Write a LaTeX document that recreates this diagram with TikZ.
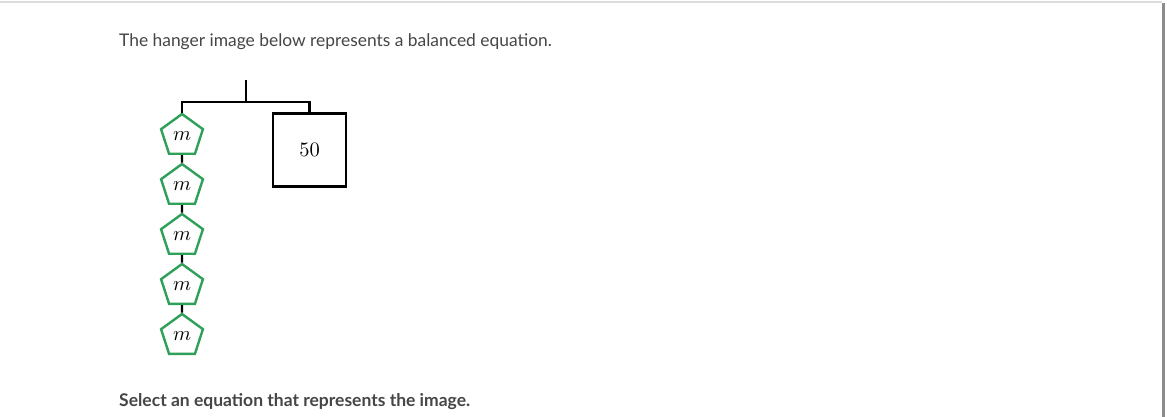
\documentclass[tikz,border=0pt]{standalone}
\usepackage{fontspec}
\setmainfont{Lato}
\usetikzlibrary{shapes.geometric}
\definecolor{pgreen}{RGB}{46,160,90}
\definecolor{txtgray}{RGB}{70,70,70}
\definecolor{bordergray}{RGB}{220,220,220}
\definecolor{bargray}{RGB}{140,140,140}
\newcommand{\biglabel}[1]{\scalebox{2.05}{$#1$}}
\begin{document}
\begin{tikzpicture}[x=1pt,y=-1pt,
  weight/.style={regular polygon, regular polygon sides=5, draw=pgreen, line width=2.4pt,
    minimum size=44pt, inner sep=0pt},
  boxw/.style={draw=black, line width=2.4pt, minimum size=73pt, inner sep=0pt},
  hang/.style={draw=black, line width=2.4pt},
  plain/.style={anchor=base west, inner sep=0pt, text=txtgray}]
\useasboundingbox (0,0) rectangle (1167,417);
\fill[white] (0,0) rectangle (1167,417);
\draw[bordergray, line width=1.6pt] (0,2) -- (1162,2);
\fill[bargray] (1162,3) rectangle (1165,417);

\node[plain, font=\fontsize{17.4}{19}\selectfont] (title) at (119,47) {The hanger image below represents a balanced equation.};
\node[plain, font=\bfseries\fontsize{17.5}{19}\selectfont] (question) at (119,406.5) {Select an equation that represents the image.};

\coordinate (hook) at (246,80);
\coordinate (barL) at (182,102);
\coordinate (barR) at (309.5,102);

\node[weight] (p1) at (182,136) {\biglabel{m}};
\node[weight] (p2) at (182,186) {\biglabel{m}};
\node[weight] (p3) at (182,236) {\biglabel{m}};
\node[weight] (p4) at (182,286) {\biglabel{m}};
\node[weight] (p5) at (182,336) {\biglabel{m}};
\node[boxw] (box) at (309.5,150) {\biglabel{50}};

\draw[hang] (hook) -- (hook |- barL);
\draw[hang] (p1.corner 1) -- (barL) -- (barR) -- (box.north);
\draw[hang] (p1.south) -- (p2.corner 1);
\draw[hang] (p2.south) -- (p3.corner 1);
\draw[hang] (p3.south) -- (p4.corner 1);
\draw[hang] (p4.south) -- (p5.corner 1);
\end{tikzpicture}
\end{document}
